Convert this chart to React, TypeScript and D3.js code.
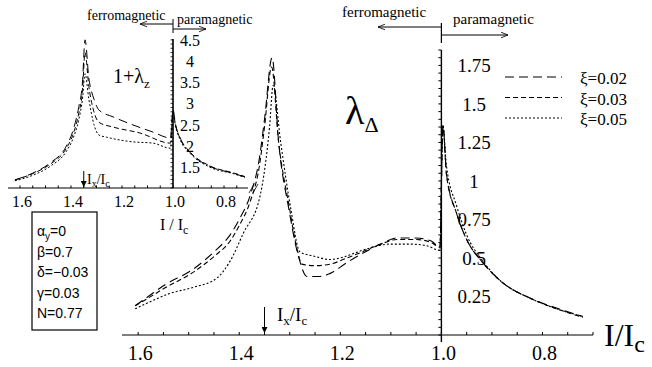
import React from 'react';
import * as d3 from 'd3';

// main panel: lambda_Delta vs I/Ic
const series = ["ξ=0.02", "ξ=0.03", "ξ=0.05"];
const dashes = ["9,5", "5,3", "2,2"];

const mainX02 = [1.606, 1.58, 1.55, 1.49, 1.45, 1.418, 1.40, 1.379, 1.36, 1.35, 1.335, 1.322, 1.302, 1.282, 1.266, 1.24, 1.22, 1.187, 1.156, 1.12, 1.088, 1.05, 1.02, 1.003, 0.997, 0.99, 0.97, 0.95, 0.918, 0.879, 0.825, 0.772, 0.72];
const mainY02 = [0.19, 0.25, 0.32, 0.43, 0.54, 0.65, 0.75, 0.90, 1.15, 1.40, 1.80, 1.25, 0.82, 0.50, 0.38, 0.38, 0.40, 0.47, 0.53, 0.59, 0.63, 0.63, 0.61, 0.57, 1.36, 1.05, 0.79, 0.62, 0.47, 0.34, 0.24, 0.175, 0.12];
const mainX03 = [1.606, 1.58, 1.55, 1.49, 1.45, 1.418, 1.40, 1.379, 1.36, 1.35, 1.336, 1.322, 1.302, 1.285, 1.276, 1.25, 1.22, 1.187, 1.156, 1.12, 1.088, 1.05, 1.02, 1.003, 0.997, 0.99, 0.97, 0.95, 0.918, 0.879, 0.825, 0.772, 0.72];
const mainY03 = [0.19, 0.24, 0.30, 0.41, 0.51, 0.61, 0.71, 0.86, 1.10, 1.35, 1.74, 1.25, 0.85, 0.55, 0.46, 0.45, 0.46, 0.50, 0.54, 0.59, 0.62, 0.62, 0.60, 0.57, 1.36, 1.04, 0.79, 0.62, 0.47, 0.34, 0.24, 0.17, 0.115];
const mainX05 = [1.606, 1.58, 1.537, 1.49, 1.444, 1.418, 1.392, 1.359, 1.349, 1.34, 1.333, 1.318, 1.298, 1.28, 1.25, 1.221, 1.19, 1.156, 1.10, 1.06, 1.03, 1.003, 0.997, 0.99, 0.97, 0.95, 0.918, 0.879, 0.825, 0.772, 0.72];
const mainY05 = [0.17, 0.21, 0.27, 0.31, 0.37, 0.48, 0.66, 0.90, 1.09, 1.35, 1.62, 1.25, 0.82, 0.54, 0.51, 0.49, 0.51, 0.55, 0.59, 0.59, 0.58, 0.55, 1.36, 1.10, 0.84, 0.65, 0.48, 0.34, 0.24, 0.17, 0.12];

// inset: 1+lambda_z vs I/Ic
const insX02 = [1.62, 1.55, 1.48, 1.42, 1.39, 1.37, 1.355, 1.345, 1.33, 1.31, 1.29, 1.235, 1.157, 1.078, 1.01, 1.0, 0.99, 0.973, 0.933, 0.855, 0.765, 0.718];
const insY02 = [1.19, 1.35, 1.60, 1.97, 2.4, 2.9, 3.5, 4.5, 3.6, 3.1, 2.84, 2.68, 2.49, 2.32, 2.18, 2.85, 2.5, 2.2, 1.84, 1.51, 1.35, 1.26];
const insX03 = [1.62, 1.55, 1.48, 1.42, 1.39, 1.37, 1.355, 1.345, 1.33, 1.31, 1.29, 1.235, 1.13, 1.01, 1.0, 0.99, 0.973, 0.933, 0.855, 0.765, 0.718];
const insY03 = [1.19, 1.34, 1.57, 1.92, 2.3, 2.75, 3.3, 4.2, 3.4, 2.8, 2.55, 2.44, 2.30, 2.06, 2.8, 2.48, 2.18, 1.85, 1.52, 1.36, 1.27];
const insX05 = [1.62, 1.55, 1.48, 1.42, 1.39, 1.37, 1.355, 1.345, 1.33, 1.31, 1.29, 1.26, 1.157, 1.078, 1.01, 1.0, 0.99, 0.973, 0.933, 0.855, 0.765, 0.718];
const insY05 = [1.17, 1.30, 1.52, 1.85, 2.2, 2.6, 3.1, 3.7, 3.1, 2.5, 2.25, 2.2, 2.09, 2.06, 1.94, 2.75, 2.45, 2.15, 1.82, 1.49, 1.34, 1.25];

const mainXTicks = [1.6, 1.4, 1.2, 1.0, 0.8];
const mainYTicks = [0.25, 0.5, 0.75, 1, 1.25, 1.5, 1.75];
const insXTicks = [1.6, 1.4, 1.2, 1.0, 0.8];
const insYTicks = [1.5, 2, 2.5, 3, 3.5, 4, 4.5];
const params = ["β=0.7", "δ=−0.03", "γ=0.03", "N=0.77"];

const serif = "'Liberation Serif', 'Times New Roman', serif";
const sans = "'Liberation Sans', Arial, sans-serif";

const zip = (xs: number[], ys: number[]) => xs.map((x, i) => [x, ys[i]] as [number, number]);

const App = () => {
  const W = 652, H = 367;
  const x = d3.scaleLinear().domain([1.632, 0.70]).range([122, 593]);
  const y = d3.scaleLinear().domain([0, 1.85]).range([335, 50]);
  const ix = d3.scaleLinear().domain([1.647, 0.706]).range([8, 248]);
  const iy = d3.scaleLinear().domain([1, 4.52]).range([188, 39]);

  const mainLine = d3.line<[number, number]>().x(d => x(d[0])).y(d => y(d[1])).curve(d3.curveMonotoneX);
  const insLine = d3.line<[number, number]>().x(d => ix(d[0])).y(d => iy(d[1])).curve(d3.curveMonotoneX);

  const mainData = [zip(mainX02, mainY02), zip(mainX03, mainY03), zip(mainX05, mainY05)];
  const insData = [zip(insX02, insY02), zip(insX03, insY03), zip(insX05, insY05)];

  const x0 = x(1.0);
  const ix0 = ix(1.0);
  const minorX = d3.range(0.7, 1.6001, 0.05);
  const minorY = d3.range(0, 1.8501, 0.05);
  const insMinorX = d3.range(0.75, 1.6001, 0.05);
  const insMinorY = d3.range(1, 4.5001, 0.1);

  return (
    <svg width={W} height={H} style={{ position: 'absolute', left: 0, top: 0, background: '#fff' }}>
      <defs>
        <marker id="arr" viewBox="0 0 10 10" refX="10" refY="5" markerWidth="9" markerHeight="7" orient="auto">
          <path d="M0,1 L10,5 L0,9" fill="none" stroke="#000" strokeWidth="1.2" />
        </marker>
        <marker id="arrf" viewBox="0 0 10 10" refX="10" refY="5" markerWidth="6" markerHeight="6" orient="auto">
          <path d="M0,0 L10,5 L0,10 z" fill="#000" />
        </marker>
      </defs>

      {/* main axes */}
      <line x1={122} x2={593} y1={y(0)} y2={y(0)} stroke="#000" strokeWidth={1.2} />
      <line x1={x0} x2={x0} y1={y(0) + 7} y2={y(1.85)} stroke="#000" strokeWidth={1.4} />
      {minorX.map((v, i) => (
        <line key={'mx' + i} x1={x(v)} x2={x(v)} y1={y(0)} y2={y(0) - 3} stroke="#000" />
      ))}
      {minorY.map((v, i) => (
        <line key={'my' + i} x1={x0} x2={x0 - 3} y1={y(v)} y2={y(v)} stroke="#000" />
      ))}
      {mainXTicks.map(v => (
        <text key={'mxt' + v} x={x(v) + 2} y={360} textAnchor="middle" fontFamily={serif} fontSize={20}>{v.toFixed(1)}</text>
      ))}
      {mainYTicks.map(v => (
        <text key={'myt' + v} x={474} y={y(v) + 7} textAnchor="middle" fontFamily={serif} fontSize={19}>{String(v)}</text>
      ))}

      {mainData.map((d, i) => (
        <path key={'m' + i} d={mainLine(d) || ''} fill="none" stroke="#000" strokeWidth={1.1} strokeDasharray={dashes[i]} />
      ))}

      {/* legend */}
      {series.map((s, i) => (
        <g key={'lg' + i}>
          <line x1={505} x2={562} y1={77 + i * 20.5} y2={77 + i * 20.5} stroke="#000" strokeWidth={1.1} strokeDasharray={dashes[i]} />
          <text x={580} y={84 + i * 20.5} fontFamily={serif} fontSize={17}>{s}</text>
        </g>
      ))}

      {/* main annotations */}
      <text x={345} y={124} fontFamily={serif} fontSize={40}>λ<tspan fontSize={22} dy={8}>Δ</tspan></text>
      <text x={604} y={346} fontFamily={serif} fontSize={32}>I/I<tspan fontSize={24} dy={6}>c</tspan></text>
      <text x={342} y={17} fontFamily={serif} fontSize={15}>ferromagnetic</text>
      <text x={453} y={24} fontFamily={serif} fontSize={15}>paramagnetic</text>
      <line x1={x0} x2={378} y1={27} y2={27} stroke="#000" markerEnd="url(#arr)" />
      <line x1={x0} x2={508} y1={35} y2={35} stroke="#000" markerEnd="url(#arr)" />
      <line x1={x0} x2={x0} y1={23} y2={43} stroke="#000" strokeWidth={1.2} />
      <line x1={x(1.35)} x2={x(1.35)} y1={307} y2={333} stroke="#000" markerEnd="url(#arrf)" />
      <text x={277} y={321} fontFamily={serif} fontSize={19}>I<tspan fontSize={13} dy={4}>x</tspan><tspan dy={-4}>/I</tspan><tspan fontSize={13} dy={4}>c</tspan></text>

      {/* parameter box */}
      <rect x={32} y={212} width={65} height={118} fill="#fff" stroke="#000" strokeWidth={1.2} />
      <text x={37} y={236} fontFamily={sans} fontSize={14}>α<tspan fontSize={10} dy={4}>y</tspan><tspan dy={-4}>=0</tspan></text>
      {params.map((p, i) => (
        <text key={'p' + i} x={37} y={257 + i * 20.3} fontFamily={sans} fontSize={14}>{p}</text>
      ))}

      {/* inset axes */}
      <line x1={8} x2={248} y1={iy(1)} y2={iy(1)} stroke="#000" strokeWidth={1.2} />
      <path d={`M249,${iy(1) + 5} L254,${iy(1) - 4} M253,${iy(1) + 5} L258,${iy(1) - 4}`} stroke="#000" strokeWidth={0.8} fill="none" />
      <line x1={ix0} x2={ix0} y1={iy(1)} y2={39} stroke="#000" strokeWidth={1.6} />
      {insMinorX.map((v, i) => (
        <line key={'ix' + i} x1={ix(v)} x2={ix(v)} y1={iy(1)} y2={iy(1) - 2.5} stroke="#000" />
      ))}
      {insMinorY.map((v, i) => (
        <line key={'iy' + i} x1={ix0} x2={ix0 - 2.5} y1={iy(v)} y2={iy(v)} stroke="#000" strokeWidth={0.8} />
      ))}
      {insXTicks.map(v => (
        <text key={'ixt' + v} x={ix(v) + 2} y={207} textAnchor="middle" fontFamily={serif} fontSize={16}>{v.toFixed(1)}</text>
      ))}
      {insYTicks.map(v => (
        <text key={'iyt' + v} x={190} y={iy(v) + 6} textAnchor="middle" fontFamily={serif} fontSize={16}>{String(v)}</text>
      ))}
      {insData.map((d, i) => (
        <path key={'i' + i} d={insLine(d) || ''} fill="none" stroke="#000" strokeWidth={1} strokeDasharray={dashes[i]} />
      ))}

      {/* inset annotations */}
      <text x={113} y={83} fontFamily={serif} fontSize={20}>1+λ<tspan fontSize={13} dy={5}>z</tspan></text>
      <text x={160} y={230} fontFamily={serif} fontSize={16}>I / I<tspan fontSize={12} dy={4}>c</tspan></text>
      <text x={87} y={20} fontFamily={serif} fontSize={14}>ferromagnetic</text>
      <text x={177} y={24} fontFamily={serif} fontSize={14}>paramagnetic</text>
      <line x1={ix0} x2={140} y1={24} y2={24} stroke="#000" markerEnd="url(#arr)" />
      <line x1={ix0} x2={206} y1={29} y2={29} stroke="#000" markerEnd="url(#arr)" />
      <line x1={ix0} x2={ix0} y1={19} y2={33} stroke="#000" />
      <line x1={ix(1.35)} x2={ix(1.35)} y1={171} y2={187} stroke="#000" markerEnd="url(#arrf)" />
      <text x={87} y={184} fontFamily={serif} fontSize={14}>I<tspan fontSize={10} dy={3}>x</tspan><tspan dy={-3}>/I</tspan><tspan fontSize={10} dy={3}>c</tspan></text>
    </svg>
  );
};

export default App;
